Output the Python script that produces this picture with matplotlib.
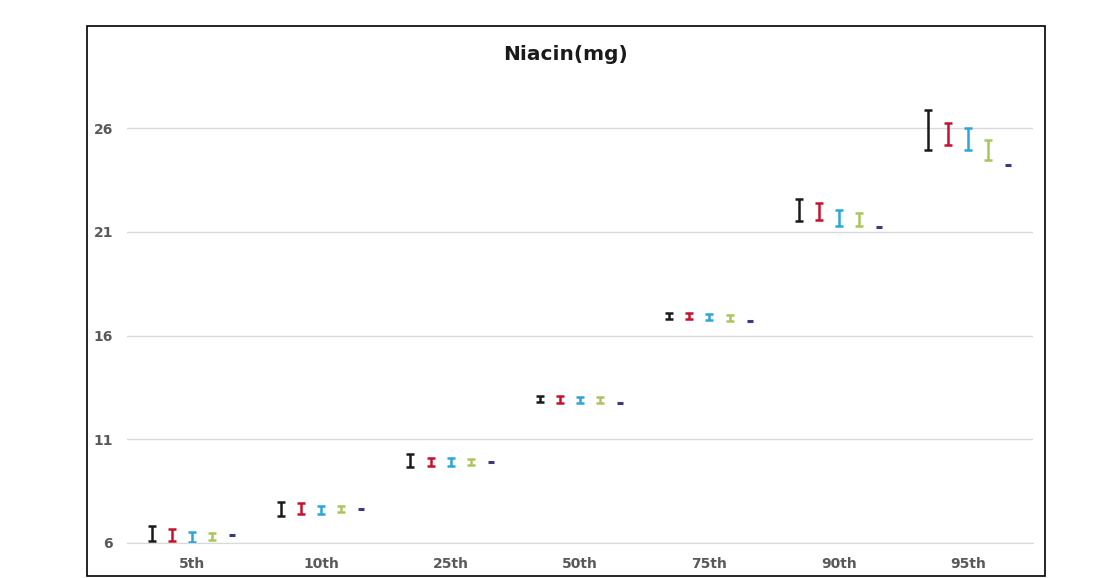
import numpy as np
import matplotlib.pyplot as plt
from matplotlib.patches import Rectangle

# percentiles on the x axis
categories = ['5th', '10th', '25th', '50th', '75th', '90th', '95th']

# lower / upper ends of each interval, one pair of lists per series
s1_low = [6.10, 7.30, 9.66, 12.80, 16.80, 21.50, 24.95]
s1_high = [6.80, 7.98, 10.29, 13.10, 17.10, 22.60, 26.85]
s2_low = [6.10, 7.40, 9.72, 12.76, 16.78, 21.57, 25.20]
s2_high = [6.67, 7.93, 10.10, 13.08, 17.08, 22.39, 26.25]
s3_low = [6.05, 7.40, 9.72, 12.75, 16.75, 21.30, 24.95]
s3_high = [6.55, 7.80, 10.08, 13.05, 17.05, 22.06, 26.00]
s4_low = [6.15, 7.50, 9.75, 12.76, 16.70, 21.26, 24.47]
s4_high = [6.50, 7.80, 10.05, 13.04, 17.00, 21.90, 25.43]
s5_low = [6.35, 7.61, 9.87, 12.73, 16.65, 21.21, 24.20]
s5_high = [6.41, 7.67, 9.93, 12.79, 16.71, 21.27, 24.26]

series = [(s1_low, s1_high), (s2_low, s2_high), (s3_low, s3_high),
          (s4_low, s4_high), (s5_low, s5_high)]
colors = ['#1a1a1a', '#c8102e', '#2aa7d6', '#a9c65c', '#3a3a80']

fig = plt.figure(figsize=(11.15, 5.78), dpi=100)
ax = fig.add_axes([0.1139, 0.0606, 0.8126, 0.7716])

x = np.arange(len(categories))
offset = 0.155
for i, (lo, hi) in enumerate(series):
    lo = np.array(lo)
    hi = np.array(hi)
    mid = (lo + hi) / 2
    err = (hi - lo) / 2
    xs = x + (i - 2) * offset
    if i == 4:
        # the last series is so narrow it only shows as a short dash
        ax.plot(xs, mid, ls='none', marker='_', ms=4.5, mew=2.2, color=colors[i])
    else:
        ax.errorbar(xs, mid, yerr=err, fmt='none', ecolor=colors[i],
                    elinewidth=1.8, capsize=3.2, capthick=1.8)

ax.set_xlim(-0.5, len(categories) - 0.5)
ax.set_ylim(6, 27.5)
ax.set_yticks([6, 11, 16, 21, 26])
ax.set_xticks(x)
ax.set_xticklabels(categories)
ax.grid(axis='y', color='#d9d9d9', linewidth=1)
ax.set_axisbelow(True)
for side in ['top', 'right', 'left']:
    ax.spines[side].set_visible(False)
ax.spines['bottom'].set_color('#d9d9d9')
ax.tick_params(length=0, colors='#595959', labelsize=10)
ax.tick_params(axis='x', pad=10)
ax.tick_params(axis='y', pad=10)
for lab in ax.get_xticklabels() + ax.get_yticklabels():
    lab.set_fontweight('bold')

fig.text(0.5076, 0.905, 'Niacin(mg)', ha='center', va='center',
         fontsize=14.5, fontweight='bold', color='#1a1a1a')

# outer chart border
fig.patches.append(Rectangle((87 / 1115, 2 / 578), 958 / 1115, 550 / 578,
                             transform=fig.transFigure, fill=False,
                             edgecolor='black', linewidth=1.2))

fig.savefig('out.png', dpi=100)
